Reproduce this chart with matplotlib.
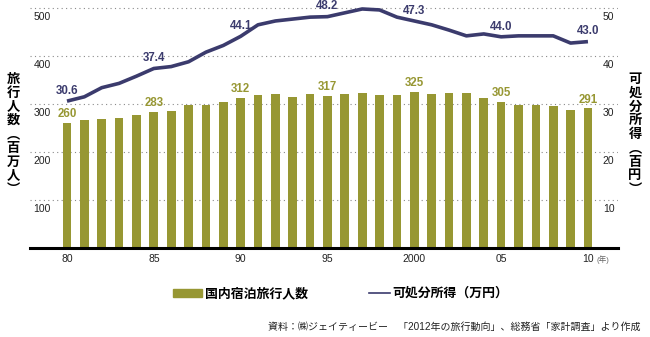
import matplotlib.pyplot as plt
from matplotlib.patches import Rectangle
from matplotlib.lines import Line2D

plt.rcParams['font.family'] = ['Liberation Sans', 'Noto Sans CJK JP', 'DejaVu Sans']

# data
years = list(range(1980, 2011))
travelers = [260, 267, 269, 271, 277, 283, 285, 298, 298, 304,
             312, 319, 320, 315, 320, 317, 321, 323, 319, 319,
             325, 321, 323, 323, 313, 305, 298, 298, 296, 288, 291]
income = [30.6, 31.5, 33.4, 34.3, 35.8, 37.4, 37.8, 38.8, 40.8, 42.2,
          44.1, 46.5, 47.3, 47.7, 48.1, 48.2, 49.0, 49.8, 49.6, 48.1,
          47.3, 46.5, 45.4, 44.2, 44.6, 44.0, 44.2, 44.2, 44.2, 42.7, 43.0]
label_years = [1980, 1985, 1990, 1995, 2000, 2005, 2010]
xtick_years = [1980, 1985, 1990, 1995, 2000, 2005, 2010]
xtick_labels = ['80', '85', '90', '95', '2000', '05', '10']
left_ticks = [100, 200, 300, 400, 500]
right_ticks = [10, 20, 30, 40, 50]

bar_color = '#979733'
line_color = '#3b3b6d'
text_color = '#222222'

fig = plt.figure(figsize=(6.5, 3.37), dpi=100)
ax = fig.add_axes([30 / 650, 1 - 248 / 337, 588 / 650, 248 / 337])
ax2 = ax.twinx()

ax.set_xlim(1977.87, 2011.73)
ax.set_ylim(0, 516.7)
ax2.set_ylim(0, 51.67)

for v in left_ticks:
    ax.axhline(v, color='#8a8a8a', lw=0.8, ls=(0, (1, 3)), zorder=0)

ax.bar(years, travelers, width=0.5, color=bar_color, zorder=2)
ax2.plot(years, income, color=line_color, lw=2.6, solid_capstyle='butt', zorder=3)

for y, v in zip(years, travelers):
    if y in label_years:
        ax.annotate(str(v), (y, v), xytext=(0, 2), textcoords='offset points',
                    ha='center', va='bottom', fontsize=8.3, fontweight='bold', color=bar_color)
for y, v in zip(years, income):
    if y in label_years:
        ax2.annotate(f'{v:.1f}', (y, v), xytext=(0, 3), textcoords='offset points',
                     ha='center', va='bottom', fontsize=8.3, fontweight='bold', color=line_color)

for sp in list(ax.spines.values()) + list(ax2.spines.values()):
    sp.set_visible(False)
ax.axhline(0, color='black', lw=2.2, zorder=4, clip_on=False)

ax.set_yticks([])
ax2.set_yticks([])
ax.set_xticks([])

for v in left_ticks:
    ax.annotate(str(v), (0, v), xycoords=('axes fraction', 'data'), xytext=(2.5, -3),
                textcoords='offset points', ha='left', va='top', fontsize=7.5, color=text_color)
for v in right_ticks:
    ax2.annotate(str(v), (1, v), xycoords=('axes fraction', 'data'), xytext=(-11, -3),
                 textcoords='offset points', ha='left', va='top', fontsize=7.5, color=text_color)

for x, s in zip(xtick_years, xtick_labels):
    ax.annotate(s, (x, 0), xycoords=('data', 'axes fraction'), xytext=(0, -4),
                textcoords='offset points', ha='center', va='top', fontsize=7.5, color=text_color)
ax.annotate('(年)', (2010, 0), xycoords=('data', 'axes fraction'), xytext=(6.5, -5),
            textcoords='offset points', ha='left', va='top', fontsize=5.5, color='#666666')

# vertical axis titles
fig.text(13 / 650, 1 - 134 / 337, '\n'.join('旅行人数︵百万人︶'), ha='center', va='center',
         fontsize=9.5, fontweight='bold', linespacing=0.98, family='Noto Sans CJK JP')
fig.text(635 / 650, 1 - 134 / 337, '\n'.join('可処分所得︵百円︶'), ha='center', va='center',
         fontsize=9.5, fontweight='bold', linespacing=0.98, family='Noto Sans CJK JP')

# legend
ly = 1 - 293 / 337
fig.patches.append(Rectangle((173 / 650, ly - 4 / 337), 29 / 650, 8 / 337,
                             transform=fig.transFigure, color=bar_color))
fig.text(205 / 650, ly, '国内宿泊旅行人数', ha='left', va='center', fontsize=9.3,
         fontweight='bold', family='Noto Sans CJK JP')
fig.lines.append(Line2D([369 / 650, 390 / 650], [ly, ly], transform=fig.transFigure,
                        color=line_color, lw=1.2))
fig.text(392 / 650, ly, '可処分所得（万円）', ha='left', va='center', fontsize=9.3,
         fontweight='bold', family='Noto Sans CJK JP')

fig.text(641 / 650, 1 - 327 / 337, '資料：㈱ジェイティービー　「2012年の旅行動向」、総務省「家計調査」より作成',
         ha='right', va='center', fontsize=7.2, color=text_color)

fig.savefig('out.png', dpi=100)
